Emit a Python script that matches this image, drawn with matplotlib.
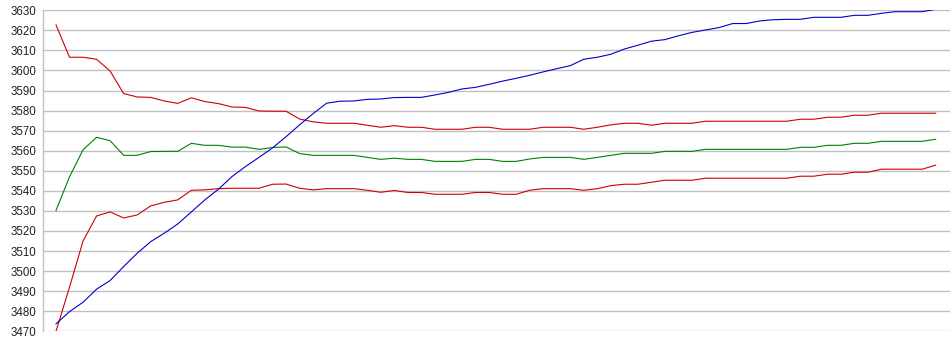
import matplotlib.pyplot as plt

# values, 66 points per series
blue_line = [3473.7, 3479.8, 3484.5, 3491.0, 3495.3, 3502.3, 3508.9, 3514.7, 3518.9, 3523.5,
             3529.5, 3535.5, 3540.8, 3547.1, 3552.1, 3556.7, 3561.4, 3567.0, 3572.9, 3578.5,
             3583.7, 3584.7, 3584.8, 3585.6, 3585.8, 3586.5, 3586.6, 3586.6, 3587.8, 3589.1,
             3590.8, 3591.6, 3593.1, 3594.7, 3596.1, 3597.6, 3599.3, 3600.9, 3602.4, 3605.6,
             3606.6, 3608.1, 3610.7, 3612.6, 3614.6, 3615.4, 3617.3, 3619.0, 3620.2, 3621.4,
             3623.4, 3623.4, 3624.7, 3625.3, 3625.5, 3625.5, 3626.5, 3626.5, 3626.5, 3627.5,
             3627.5, 3628.5, 3629.3, 3629.3, 3629.3, 3630.5]

red_top = [3622.7, 3606.6, 3606.6, 3605.6, 3599.7, 3588.5, 3586.8, 3586.6, 3584.8, 3583.6,
           3586.4, 3584.5, 3583.5, 3581.8, 3581.6, 3579.8, 3579.7, 3579.7, 3575.8, 3574.4,
           3573.7, 3573.7, 3573.7, 3572.7, 3571.7, 3572.5, 3571.7, 3571.7, 3570.7, 3570.7,
           3570.7, 3571.7, 3571.7, 3570.7, 3570.7, 3570.7, 3571.7, 3571.7, 3571.7, 3570.7,
           3571.7, 3572.9, 3573.7, 3573.7, 3572.7, 3573.7, 3573.7, 3573.7, 3574.7, 3574.7,
           3574.7, 3574.7, 3574.7, 3574.7, 3574.7, 3575.7, 3575.7, 3576.7, 3576.7, 3577.7,
           3577.7, 3578.7, 3578.7, 3578.7, 3578.7, 3578.7]

green_line = [3530.2, 3547.0, 3560.5, 3566.7, 3565.0, 3557.7, 3557.7, 3559.6, 3559.7, 3559.7,
              3563.7, 3562.7, 3562.7, 3561.8, 3561.8, 3560.7, 3561.6, 3561.9, 3558.6, 3557.7,
              3557.7, 3557.7, 3557.7, 3556.7, 3555.7, 3556.3, 3555.7, 3555.7, 3554.7, 3554.7,
              3554.7, 3555.7, 3555.7, 3554.7, 3554.7, 3555.9, 3556.7, 3556.7, 3556.7, 3555.7,
              3556.7, 3557.7, 3558.7, 3558.7, 3558.7, 3559.7, 3559.7, 3559.7, 3560.7, 3560.7,
              3560.7, 3560.7, 3560.7, 3560.7, 3560.7, 3561.7, 3561.7, 3562.7, 3562.7, 3563.7,
              3563.7, 3564.7, 3564.7, 3564.7, 3564.7, 3565.7]

red_low = [3470.0, 3492.0, 3515.0, 3527.5, 3529.5, 3526.5, 3528.0, 3532.5, 3534.3, 3535.5,
           3540.3, 3540.5, 3541.1, 3541.3, 3541.3, 3541.3, 3543.3, 3543.4, 3541.3, 3540.5,
           3541.1, 3541.1, 3541.1, 3540.3, 3539.3, 3540.2, 3539.2, 3539.2, 3538.3, 3538.3,
           3538.3, 3539.2, 3539.2, 3538.3, 3538.3, 3540.3, 3541.1, 3541.1, 3541.1, 3540.3,
           3541.1, 3542.6, 3543.3, 3543.3, 3544.3, 3545.3, 3545.3, 3545.3, 3546.3, 3546.3,
           3546.3, 3546.3, 3546.3, 3546.3, 3546.3, 3547.3, 3547.3, 3548.3, 3548.3, 3549.3,
           3549.3, 3550.8, 3550.8, 3550.8, 3550.8, 3552.8]

y_ticks = list(range(3470, 3631, 10))
x = list(range(len(blue_line)))

fig = plt.figure(figsize=(9.5, 3.55), dpi=100)
ax = fig.add_axes([43 / 950, 1 - 331.3 / 355, 907 / 950, 321 / 355])

ax.plot(x, red_top, color="#cc0000", linewidth=0.8)
ax.plot(x, green_line, color="#008000", linewidth=0.8)
ax.plot(x, red_low, color="#cc0000", linewidth=0.8)
ax.plot(x, blue_line, color="#0000cc", linewidth=0.8)

ax.set_xlim(-0.96, 66.06)
ax.set_ylim(3470, 3630)
ax.set_yticks(y_ticks)
ax.set_xticks([])
ax.grid(axis="y", color="#c0c0c0", linewidth=1.0)
ax.set_axisbelow(True)

for side in ["top", "right", "bottom"]:
    ax.spines[side].set_visible(False)
ax.spines["left"].set_color("#c0c0c0")
ax.spines["left"].set_linewidth(1.0)

ax.tick_params(axis="y", length=0, pad=5, labelsize=8.3, labelcolor="#222222")
for lbl in ax.get_yticklabels():
    lbl.set_family(["Liberation Sans", "DejaVu Sans"])

fig.savefig("out.png", dpi=100)
